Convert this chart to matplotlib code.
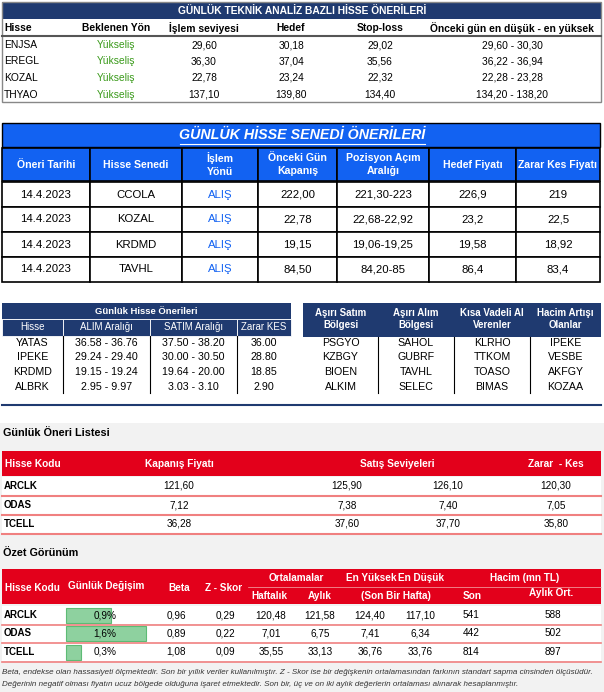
import numpy as np
import matplotlib.pyplot as plt
from matplotlib.patches import Rectangle

plt.rcParams['font.family'] = ['Liberation Sans', 'DejaVu Sans']

# ---- data ----
t1_cols = ['Hisse', 'Beklenen Yön', 'İşlem seviyesi', 'Hedef', 'Stop-loss', 'Önceki gün en düşük - en yüksek']
t1_hisse = ['ENJSA', 'EREGL', 'KOZAL', 'THYAO']
t1_yon = ['Yükseliş'] * 4
t1_islem = ['29,60', '36,30', '22,78', '137,10']
t1_hedef = ['30,18', '37,04', '23,24', '139,80']
t1_stop = ['29,02', '35,56', '22,32', '134,40']
t1_range = ['29,60 - 30,30', '36,22 - 36,94', '22,28 - 23,28', '134,20 - 138,20']

t2_cols = ['Öneri Tarihi', 'Hisse Senedi', 'İşlem\nYönü', 'Önceki Gün\nKapanış', 'Pozisyon Açım\nAralığı', 'Hedef Fiyatı', 'Zarar Kes Fiyatı']
t2_tarih = ['14.4.2023'] * 4
t2_hisse = ['CCOLA', 'KOZAL', 'KRDMD', 'TAVHL']
t2_yon = ['ALIŞ'] * 4
t2_kapanis = ['222,00', '22,78', '19,15', '84,50']
t2_aralik = ['221,30-223', '22,68-22,92', '19,06-19,25', '84,20-85']
t2_hedef = ['226,9', '23,2', '19,58', '86,4']
t2_zarar = ['219', '22,5', '18,92', '83,4']

t3_cols = ['Hisse', 'ALIM Aralığı', 'SATIM Aralığı', 'Zarar KES']
t3_hisse = ['YATAS', 'IPEKE', 'KRDMD', 'ALBRK']
t3_alim = ['36.58 - 36.76', '29.24 - 29.40', '19.15 - 19.24', '2.95 - 9.97']
t3_satim = ['37.50 - 38.20', '30.00 - 30.50', '19.64 - 20.00', '3.03 - 3.10']
t3_zarar = ['36.00', '28.80', '18.85', '2.90']

t4_cols = ['Aşırı Satım\nBölgesi', 'Aşırı Alım\nBölgesi', 'Kısa Vadeli Al\nVerenler', 'Hacim Artışı\nOlanlar']
t4_satim = ['PSGYO', 'KZBGY', 'BIOEN', 'ALKIM']
t4_alim = ['SAHOL', 'GUBRF', 'TAVHL', 'SELEC']
t4_kisa = ['KLRHO', 'TTKOM', 'TOASO', 'BIMAS']
t4_hacim = ['IPEKE', 'VESBE', 'AKFGY', 'KOZAA']

t5_hisse = ['ARCLK', 'ODAS', 'TCELL']
t5_kapanis = ['121,60', '7,12', '36,28']
t5_satis1 = ['125,90', '7,38', '37,60']
t5_satis2 = ['126,10', '7,40', '37,70']
t5_zarar = ['120,30', '7,05', '35,80']

t6_hisse = ['ARCLK', 'ODAS', 'TCELL']
t6_degisim = [0.9, 1.6, 0.3]
t6_beta = ['0,96', '0,89', '1,08']
t6_z = ['0,29', '0,22', '0,09']
t6_haftalik = ['120,48', '7,01', '35,55']
t6_aylik = ['121,58', '6,75', '33,13']
t6_yuksek = ['124,40', '7,41', '36,76']
t6_dusuk = ['117,10', '6,34', '33,76']
t6_son = ['541', '442', '814']
t6_aylik_ort = ['588', '502', '897']

NAVY = '#1F3A70'
BLUE = '#1262F2'
RED = '#E3001B'
PINK = '#F08080'

fig = plt.figure(figsize=(6.04, 6.92), dpi=100)
ax = fig.add_axes([0, 0, 1, 1])
ax.set_xlim(0, 604)
ax.set_ylim(692, 0)
ax.axis('off')


def txt(x, y, s, size=7, ha='center', color='black', weight='normal', style='normal', **kw):
    ax.text(x, y, s, fontsize=size, ha=ha, va='center', color=color,
            fontweight=weight, fontstyle=style, **kw)


def rect(x, y, w, h, fc, ec='none', lw=0):
    ax.add_patch(Rectangle((x, y), w, h, facecolor=fc, edgecolor=ec, linewidth=lw))


# ---- table 1 ----
rect(2, 2, 599, 17, NAVY)
txt(302, 10.5, 'GÜNLÜK TEKNİK ANALİZ BAZLI HİSSE ÖNERİLERİ', 7.4, color='white', weight='bold')
t1_x = [4, 116, 204, 291, 380, 512]
t1_ha = ['left'] + ['center'] * 5
for x, c, h in zip(t1_x, t1_cols, t1_ha):
    txt(x, 28, c, 7.4, ha=h, weight='bold')
ax.plot([2, 601], [36, 36], color='#555555', lw=1.5)
rect(2, 2, 599, 100, 'none', '#888888', 1)
cols1 = [t1_hisse, t1_yon, t1_islem, t1_hedef, t1_stop, t1_range]
for i in range(4):
    y = 45 + i * 16.5
    for j, col in enumerate(cols1):
        txt(t1_x[j], y, col[i], 7.4, ha=t1_ha[j], color='#3A9A1A' if j == 1 else 'black')

# ---- table 2 ----
rect(2, 123, 598, 24, BLUE, 'black', 1)
txt(302, 135, 'GÜNLÜK HİSSE SENEDİ ÖNERİLERİ', 10.3, color='white', weight='bold', style='italic')
ax.plot([180, 425], [143.5, 143.5], color='white', lw=0.8)
b2 = [2, 90, 182, 258, 337, 429, 516, 600]
for j in range(7):
    rect(b2[j], 148, b2[j + 1] - b2[j], 33, BLUE, 'black', 1.2)
    txt((b2[j] + b2[j + 1]) / 2, 164.5, t2_cols[j], 7.6, color='white', weight='bold', linespacing=1.3)
cols2 = [t2_tarih, t2_hisse, t2_yon, t2_kapanis, t2_aralik, t2_hedef, t2_zarar]
for i in range(4):
    y0 = 182 + i * 25
    for j, col in enumerate(cols2):
        rect(b2[j], y0, b2[j + 1] - b2[j], 25, 'white', 'black', 1.2)
        txt((b2[j] + b2[j + 1]) / 2, y0 + 12.5, col[i], 8.2,
            color=BLUE if j == 2 else 'black')

# ---- table 3 ----
rect(2, 303, 289, 16, NAVY)
txt(146, 311, 'Günlük Hisse Önerileri', 6.8, color='white', weight='bold')
b3 = [2, 63, 150, 237, 291]
for j in range(4):
    rect(b3[j], 319, b3[j + 1] - b3[j], 17, NAVY, 'white', 0.6)
    txt((b3[j] + b3[j + 1]) / 2, 327.5, t3_cols[j], 7, color='white')
cols3 = [t3_hisse, t3_alim, t3_satim, t3_zarar]
for j in range(1, 4):
    ax.plot([b3[j], b3[j]], [336, 393], color='black', lw=0.8)
for i in range(4):
    for j, col in enumerate(cols3):
        txt((b3[j] + b3[j + 1]) / 2, 343 + i * 14.5, col[i], 7.7)

# ---- table 4 ----
rect(303, 303, 298, 34, NAVY)
b4 = [303, 378, 454, 530, 601]
cols4 = [t4_satim, t4_alim, t4_kisa, t4_hacim]
for j in range(4):
    cx = (b4[j] + b4[j + 1]) / 2
    txt(cx, 319, t4_cols[j], 7, color='white', weight='bold', linespacing=1.2)
    for i in range(4):
        txt(cx, 343 + i * 14.5, cols4[j][i], 7.7)
for j in range(1, 4):
    ax.plot([b4[j], b4[j]], [337, 393], color='black', lw=0.8)
ax.plot([2, 601], [405, 405], color=NAVY, lw=1.5)

# ---- section 4 (gray) ----
rect(0, 423, 604, 269, '#F2F2F2')
txt(3, 433, 'Günlük Öneri Listesi', 7.8, ha='left', weight='bold')
rect(2, 451, 599, 25, RED)
for x, s, h in [(5, 'Hisse Kodu', 'left'), (179, 'Kapanış Fiyatı', 'center'),
                (397, 'Satış Seviyeleri', 'center'), (556, 'Zarar  - Kes', 'center')]:
    txt(x, 464, s, 7.3, ha=h, color='white', weight='bold')
for i in range(3):
    y = 486 + i * 19
    rect(2, y - 9, 599, 18, 'white')
    txt(4, y, t5_hisse[i], 7, ha='left', weight='bold')
    txt(179, y, t5_kapanis[i], 7.2)
    txt(347, y, t5_satis1[i], 7.2)
    txt(448, y, t5_satis2[i], 7.2)
    txt(556, y, t5_zarar[i], 7.2)
    ax.plot([2, 601], [y + 10, y + 10], color=PINK, lw=1.5)

# ---- section 5 ----
txt(3, 553, 'Özet Görünüm', 7.8, ha='left', weight='bold')
rect(2, 569, 599, 35, RED)
ax.plot([248, 601], [587, 587], color='#F5B0B0', lw=0.5)
W = dict(color='white', weight='bold')
for x, y, s in [(106, 586, 'Günlük Değişim'), (179, 588, 'Beta'), (224, 588, 'Z - Skor'),
                (296, 578, 'Ortalamalar'), (269, 596, 'Haftalık'), (320, 596, 'Aylık'),
                (371, 578, 'En Yüksek'), (421, 578, 'En Düşük'), (396, 596, '(Son Bir Hafta)'),
                (525, 578, 'Hacim (mn TL)'), (472, 596, 'Son'), (551, 593, 'Aylık Ort.')]:
    txt(x, y, s, 7.2, **W)
txt(5, 588, 'Hisse Kodu', 7.2, ha='left', **W)
vals6 = [(176, t6_beta), (225, t6_z), (271, t6_haftalik), (320, t6_aylik),
         (370, t6_yuksek), (420, t6_dusuk), (471, t6_son), (553, t6_aylik_ort)]
for i in range(3):
    y = 615 + i * 18.5
    rect(2, y - 9, 599, 18, 'white')
    ax.barh(y, t6_degisim[i] * 50, left=66, height=15, color='#8ED19F',
            edgecolor='#5DBB75', linewidth=0.8)
    txt(4, y, t6_hisse[i], 7, ha='left', weight='bold')
    txt(105, y, f'{t6_degisim[i]:.1f}%'.replace('.', ','), 7.2)
    for x, col in vals6:
        txt(x, y, col[i], 7.2)
    ax.plot([2, 601], [y + 9.5, y + 9.5], color=PINK, lw=1.2)
note1 = ('Beta, endekse olan hassasiyeti ölçmektedir. Son bir yıllık veriler kullanılmıştır. Z - Skor ise bir '
         'değişkenin ortalamasından farkının standart sapma cinsinden ölçüsüdür.')
note2 = ('Değerinin negatif olması fiyatın ucuz bölgede olduğuna işaret etmektedir. Son bir, üç ve on iki '
         'aylık değerlerin ortalaması alınarak hesaplanmıştır.')
txt(2, 672, note1, 5.8, ha='left', style='italic', color='#333333')
txt(2, 684, note2, 5.8, ha='left', style='italic', color='#333333')

fig.savefig('out.png', dpi=100)
